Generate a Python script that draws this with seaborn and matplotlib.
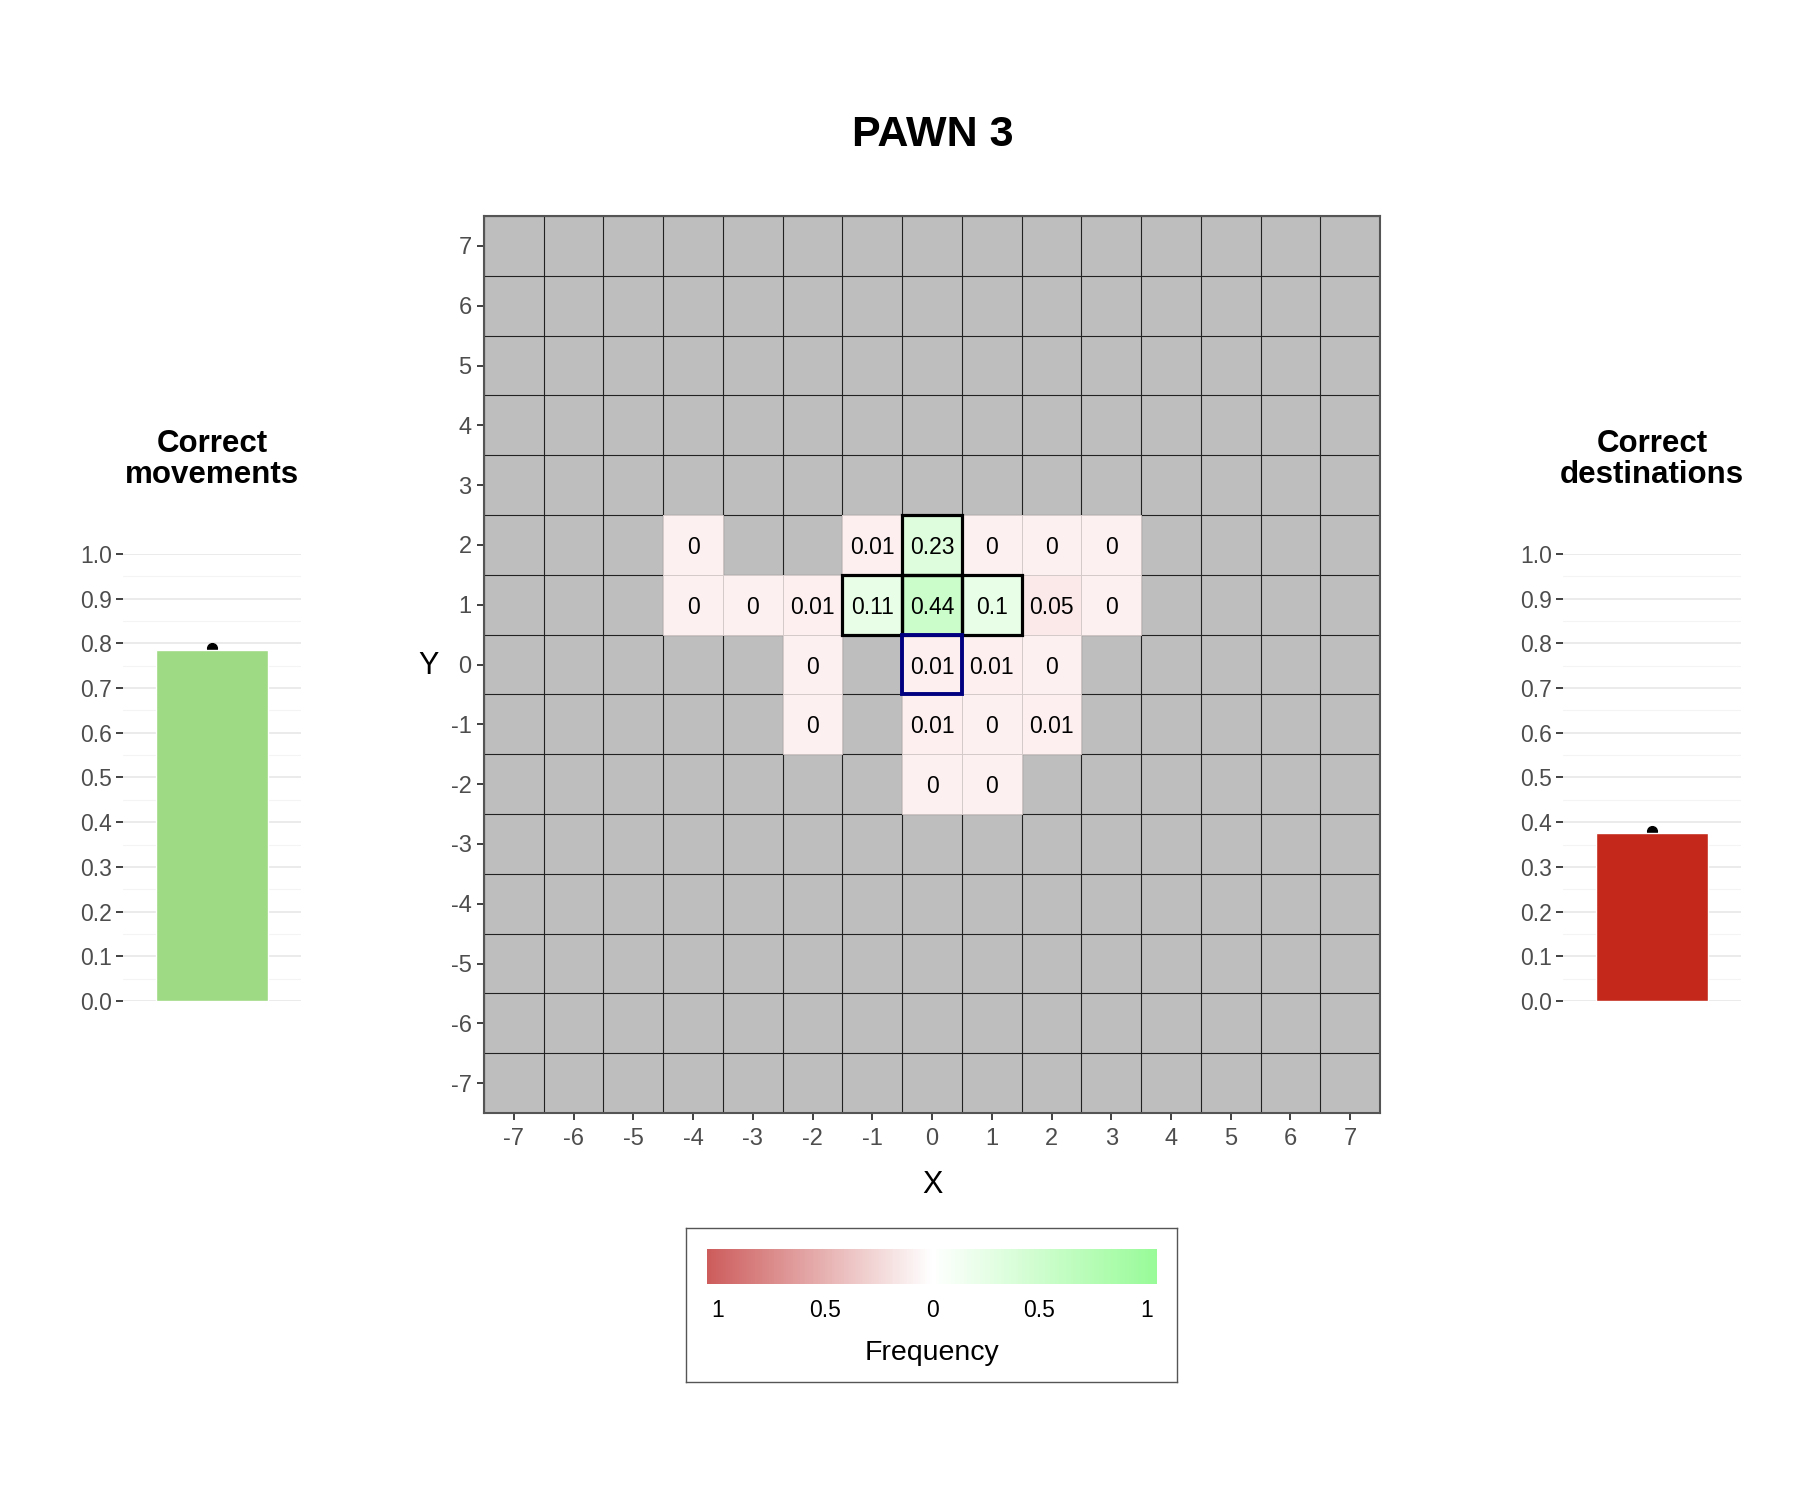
import numpy as np
import pandas as pd
import matplotlib as mpl
import matplotlib.pyplot as plt
import seaborn as sns
from matplotlib.colors import LinearSegmentedColormap, Normalize
from matplotlib.patches import Rectangle

#%% data
board = list(range(-7, 8))
cell_x = [-4, -1, 0, 1, 2, 3,
          -4, -3, -2, -1, 0, 1, 2, 3,
          -2, 0, 1, 2,
          -2, 0, 1, 2,
          0, 1]
cell_y = [2, 2, 2, 2, 2, 2,
          1, 1, 1, 1, 1, 1, 1, 1,
          0, 0, 0, 0,
          -1, -1, -1, -1,
          -2, -2]
cell_freq = [0, 0.01, 0.23, 0, 0, 0,
             0, 0, 0.01, 0.11, 0.44, 0.1, 0.05, 0,
             0, 0.01, 0.01, 0,
             0, 0.01, 0, 0.01,
             0, 0]
correct_cells = [(0, 2), (-1, 1), (0, 1), (1, 1)]
start_cell = (0, 0)

moves_rate = 0.785
moves_point = 0.79
dest_rate = 0.376
dest_point = 0.38

legend_ticks = [-1, -0.5, 0, 0.5, 1]
legend_labels = ['1', '0.5', '0', '0.5', '1']

#%% style
sns.set_theme(style="white")
plt.rcParams['font.family'] = ['Liberation Sans', 'DejaVu Sans']
plt.rcParams['text.color'] = 'black'

df = pd.DataFrame({'x': cell_x, 'y': cell_y, 'freq': cell_freq})
df['correct'] = [(a, b) in correct_cells for a, b in zip(df['x'], df['y'])]
good = (df[df['correct']].pivot(index='y', columns='x', values='freq')
        .reindex(index=board[::-1], columns=board))
bad = (df[~df['correct']].pivot(index='y', columns='x', values='freq')
       .reindex(index=board[::-1], columns=board))

fig = plt.figure(figsize=(18, 15), dpi=100)

#%% heat map
ax = fig.add_axes([0.2689, 0.258, 0.4978, 0.598])
ax.set_facecolor('#BEBEBE')
red_cmap = LinearSegmentedColormap.from_list('bad', ['#FDF0F0', '#CD5C5C'])
green_cmap = LinearSegmentedColormap.from_list('good', ['#F2FEF0', '#98FB98'])
kw = dict(vmin=0, vmax=1, cbar=False, annot=True, fmt='g', linewidths=0,
          annot_kws={'size': 16.5, 'color': 'black', 'va': 'center_baseline'},
          xticklabels=True, yticklabels=True, ax=ax)
sns.heatmap(bad, cmap=red_cmap, **kw)
sns.heatmap(good, cmap=green_cmap, **kw)

ax.set_xticks(np.arange(len(board) + 1), minor=True)
ax.set_yticks(np.arange(len(board) + 1), minor=True)
ax.set_axisbelow(True)
ax.grid(which='minor', color='#222222', lw=0.8)
ax.grid(which='major', visible=False)
ax.tick_params(which='minor', length=0)

rows = board[::-1]
# faint borders round the filled tiles
for cx, cy in zip(cell_x, cell_y):
    ax.add_patch(Rectangle((board.index(cx), rows.index(cy)), 1, 1, fill=False,
                           ec='#d5caca', lw=0.7, zorder=2))
for cx, cy in correct_cells:
    ax.add_patch(Rectangle((board.index(cx), rows.index(cy)), 1, 1, fill=False,
                           ec='black', lw=2.3, zorder=3))
ax.add_patch(Rectangle((board.index(start_cell[0]), rows.index(start_cell[1])), 1, 1,
                       fill=False, ec='#000080', lw=2.8, zorder=4))

for s in ax.spines.values():
    s.set_visible(True)
    s.set_color('#555555')
    s.set_linewidth(1.5)
ax.tick_params(which='major', axis='both', length=5, width=1.3, color='#333333',
               labelsize=17, labelcolor='#4D4D4D', bottom=True, left=True, pad=4)
ax.tick_params(axis='x', which='major', pad=6)
ax.set_yticklabels(ax.get_yticklabels(), rotation=0, va='center_baseline')
ax.set_xticklabels(ax.get_xticklabels(), rotation=0)
ax.set_xlabel('')
ax.set_ylabel('')

fig.text(0.518, 0.91, 'PAWN 3', fontsize=31, fontweight='bold', ha='center', va='center')
fig.text(0.518, 0.21, 'X', fontsize=22, ha='center', va='center')
fig.text(0.238, 0.556, 'Y', fontsize=22, ha='center', va='center')


#%% bar panels
def bar_panel(left, title, rate, point, colour):
    bax = fig.add_axes([left, 0.3327, 0.0989, 0.298])
    sns.barplot(x=[title], y=[rate], color=colour, width=0.75, saturation=1,
                ax=bax, zorder=2)
    bax.plot([0], [point], 'o', color='black', ms=7, zorder=1.5, clip_on=False)
    bax.set_xlim(-0.6, 0.6)
    bax.set_ylim(0, 1)
    bax.set_yticks(np.arange(0, 1.01, 0.1))
    bax.set_yticklabels([f'{t:.1f}' for t in np.arange(0, 1.01, 0.1)])
    bax.set_yticks(np.arange(0.05, 1.0, 0.1), minor=True)
    bax.set_xticks([])
    bax.grid(axis='y', which='major', color='#EBEBEB', lw=1.4)
    bax.grid(axis='y', which='minor', color='#F4F4F4', lw=0.8)
    bax.set_axisbelow(True)
    for s in bax.spines.values():
        s.set_visible(False)
    bax.tick_params(axis='y', which='major', left=True, length=5, width=1.3,
                    color='#333333', labelsize=16.5, labelcolor='#4D4D4D', pad=3)
    bax.tick_params(axis='y', which='minor', length=0)
    bax.set_xlabel('')
    bax.set_ylabel('')
    fig.text(left + 0.0989 / 2, 0.6935, title, fontsize=22.5, fontweight='bold',
             ha='center', va='center', linespacing=1.05)
    return bax


bar_panel(0.0683, 'Correct\nmovements', moves_rate, moves_point, '#9ED983')
bar_panel(0.8683, 'Correct\ndestinations', dest_rate, dest_point, '#C4281B')

#%% legend
lax = fig.add_axes([0.3811, 0.0787, 0.2728, 0.1027])
lax.set_xticks([])
lax.set_yticks([])
for s in lax.spines.values():
    s.set_visible(True)
    s.set_color('#555555')
    s.set_linewidth(1)

cax = fig.add_axes([0.3928, 0.144, 0.25, 0.0233])
legend_cmap = LinearSegmentedColormap.from_list('freq', ['#CD5C5C', 'white', '#98FB98'])
sm = mpl.cm.ScalarMappable(norm=Normalize(-1.05, 1.05), cmap=legend_cmap)
cb = fig.colorbar(sm, cax=cax, orientation='horizontal', ticks=legend_ticks)
cb.set_ticklabels(legend_labels)
cb.outline.set_visible(False)
cax.tick_params(direction='in', color='white', length=6, width=1, top=True,
                labelsize=16.5, labelcolor='black', pad=11)
fig.text(0.518, 0.098, 'Frequency', fontsize=20.5, ha='center', va='center')

fig.savefig('out.png', dpi=100)
